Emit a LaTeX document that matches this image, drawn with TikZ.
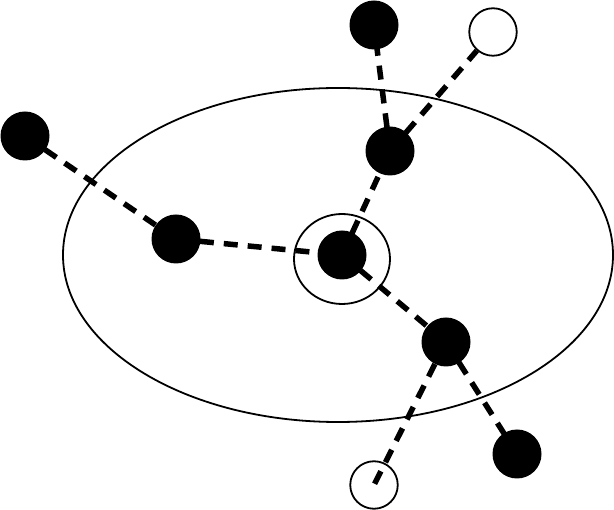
\documentclass[tikz,border=0pt]{standalone}
\usetikzlibrary{backgrounds,shapes.geometric}
\begin{document}
\begin{tikzpicture}[x=1pt,y=-1pt,
  blackdot/.style={circle,fill=black,minimum size=49pt,inner sep=0pt},
  whitedot/.style={circle,draw=black,line width=1.8pt,fill=white,minimum size=47.5pt,inner sep=0pt},
  link/.style={line width=5.5pt,dash pattern=on 14pt off 10pt,line cap=butt},
  outline/.style={line width=1.8pt}]
\useasboundingbox (0,0) rectangle (614,510);
\node[outline,draw,ellipse,minimum width=550pt,minimum height=334pt,inner sep=0pt] (zone) at (338,255) {};
\node[blackdot] (a) at (25,136) {};
\node[blackdot] (b) at (176,239) {};
\node[blackdot] (c) at (342,255) {};
\node[blackdot] (d) at (390,151) {};
\node[blackdot] (e) at (374,25) {};
\node[whitedot] (f) at (493,32) {};
\node[blackdot] (g) at (446,342) {};
\node[blackdot] (h) at (517,454) {};
\node[whitedot,fill=none] (i) at (374,485) {};
\node[outline,draw,ellipse,minimum width=96pt,minimum height=90pt,inner sep=0pt] (ring) at (342,259) {};
\begin{scope}[on background layer]
\draw[link] (a.center) -- (b.center);
\draw[link] (b.center) -- (c.center);
\draw[link] (c.center) -- (d.center);
\draw[link] (d.center) -- (e.center);
\draw[link] (d.center) -- (f);
\draw[link] (c.center) -- (g.center);
\draw[link] (g.center) -- (h.center);
\end{scope}
\draw[link] (g) -- (i.center);
\end{tikzpicture}
\end{document}
